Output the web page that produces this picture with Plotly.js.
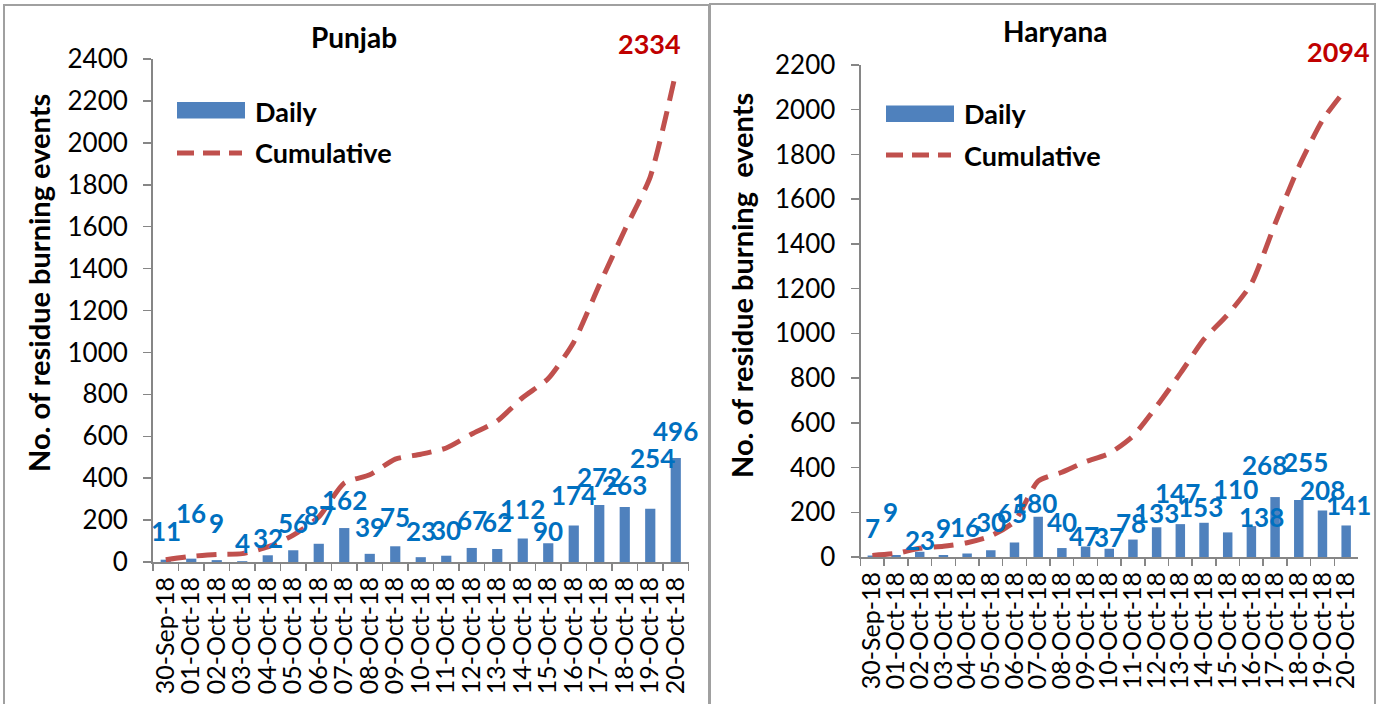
<!DOCTYPE html>
<html>
<head>
<meta charset="utf-8">
<script src="https://cdn.plot.ly/plotly-3.0.1.min.js"></script>
<style>html,body{margin:0;padding:0;background:#fff;}#chart{width:1384px;height:704px;}</style>
</head>
<body>
<div id="chart"></div>
<script>
var dates = ["30-Sep-18","01-Oct-18","02-Oct-18","03-Oct-18","04-Oct-18","05-Oct-18","06-Oct-18","07-Oct-18","08-Oct-18","09-Oct-18","10-Oct-18","11-Oct-18","12-Oct-18","13-Oct-18","14-Oct-18","15-Oct-18","16-Oct-18","17-Oct-18","18-Oct-18","19-Oct-18","20-Oct-18"];
var punjabDaily = [11,16,9,4,32,56,87,162,39,75,23,30,67,62,112,90,174,272,263,254,496];
var punjabCumulative = [11,27,36,40,72,128,215,377,416,491,514,544,611,673,785,875,1049,1321,1584,1838,2334];
var haryanaDaily = [7,9,23,9,16,30,65,180,40,47,37,78,133,147,153,110,138,268,255,208,141];
var haryanaCumulative = [7,16,39,48,64,94,159,339,379,426,463,541,674,821,974,1084,1222,1490,1745,1953,2094];
var panelTitles = ["Punjab","Haryana"];
var yTitles = ["No. of residue burning events","No. of residue burning\u00a0 events"];
var legendNames = ["Daily","Cumulative"];

// label placement (pixel nudges of the data labels, as in the reference)
var punjabLabelLift  = [29,46,37,18,17,27,29,28,27,29,26,26,28,27,30,12,31,28,22,51,27];
var punjabLabelNudge = [0,0,0,0,0,0,0,0,0,0,0,0,0,0,0,0,0,0,0,2,0];
var haryanaLabelLift  = [27,43,12,27,26,28,29,14,26,10,12,17,14,31,16,43,9,32,38,20,20];
var haryanaLabelNudge = [0,-6,0,0,-2,0,-2,-4,0,-2,0,-2,0,-3,-4,8,10,-11,7,0,2];

var W = 1384, H = 704;
function px(x){ return x / W; }
function py(y){ return 1 - y / H; }

var FONT = "Lato, 'Open Sans', sans-serif";
var BAR = "#4F81BD", LINE = "#C0504D", LABEL = "#0070C0", TOTAL = "#C00000", AX = "#868686";

function traces(daily, cum, xa, ya){
  return [
    {type:"bar", x:dates, y:daily, xaxis:xa, yaxis:ya, marker:{color:BAR}, showlegend:false, hoverinfo:"skip"},
    {type:"scatter", mode:"lines", x:dates, y:cum, xaxis:xa, yaxis:ya,
     line:{color:LINE, width:5, dash:"20px,11px", shape:"spline", smoothing:0.6}, showlegend:false, hoverinfo:"skip"}
  ];
}

var data = [].concat(
  traces(punjabDaily, punjabCumulative, "x", "y"),
  traces(haryanaDaily, haryanaCumulative, "x2", "y2")
);

function xaxis(domain, anchor){
  return {domain:domain, anchor:anchor, type:"category", range:[-0.5, dates.length-0.5],
    showline:true, linecolor:AX, linewidth:2,
    ticks:"outside", ticklen:7, tickcolor:AX, tickwidth:1.5, tickson:"boundaries",
    tickmode:"linear", dtick:1, tickangle:-90, ticklabelstandoff:3,
    tickfont:{family:FONT, size:25, color:"#000"}, showgrid:false, zeroline:false, fixedrange:true};
}
function yaxis(domain, anchor, max){
  return {domain:domain, anchor:anchor, range:[0,max], dtick:200, showline:true, linecolor:AX, linewidth:2,
    ticks:"outside", ticklen:8, tickcolor:AX, tickwidth:1.5, ticklabelstandoff:10,
    tickfont:{family:FONT, size:26, color:"#000"}, showgrid:false, zeroline:false, fixedrange:true};
}

function labelAnns(daily, lift, nudge, xr, yr){
  return daily.map(function(v, i){
    return {xref:xr, yref:yr, x:dates[i], y:v, text:String(v), showarrow:false,
      xanchor:"center", yanchor:"middle", yshift:lift[i], xshift:nudge[i],
      font:{family:FONT, size:26, color:LABEL, weight:"bold"}};
  });
}

var annotations = [
  {xref:"paper", yref:"paper", x:px(354), y:py(37), text:panelTitles[0], showarrow:false, xanchor:"center", yanchor:"middle",
   font:{family:FONT, size:28, color:"#000", weight:"bold"}},
  {xref:"paper", yref:"paper", x:px(1055), y:py(31), text:panelTitles[1], showarrow:false, xanchor:"center", yanchor:"middle",
   font:{family:FONT, size:28, color:"#000", weight:"bold"}},
  {xref:"paper", yref:"paper", x:px(38), y:py(283), text:yTitles[0], textangle:-90, showarrow:false, xanchor:"center", yanchor:"middle",
   font:{family:FONT, size:29, color:"#000", weight:"bold"}},
  {xref:"paper", yref:"paper", x:px(741), y:py(286), text:yTitles[1], textangle:-90, showarrow:false, xanchor:"center", yanchor:"middle",
   font:{family:FONT, size:29, color:"#000", weight:"bold"}},
  {xref:"x", yref:"y", x:dates[dates.length-1], y:punjabCumulative[punjabCumulative.length-1], text:String(punjabCumulative[punjabCumulative.length-1]),
   showarrow:false, xanchor:"center", yanchor:"middle", xshift:-26, yshift:29, font:{family:FONT, size:27, color:TOTAL, weight:"bold"}},
  {xref:"x2", yref:"y2", x:dates[dates.length-1], y:haryanaCumulative[haryanaCumulative.length-1], text:String(haryanaCumulative[haryanaCumulative.length-1]),
   showarrow:false, xanchor:"center", yanchor:"middle", xshift:-8, yshift:37, font:{family:FONT, size:27, color:TOTAL, weight:"bold"}},
  {xref:"paper", yref:"paper", x:px(253), y:py(111), text:legendNames[0], showarrow:false, xanchor:"left", yanchor:"middle",
   font:{family:FONT, size:27, color:"#000", weight:"bold"}},
  {xref:"paper", yref:"paper", x:px(253), y:py(153), text:legendNames[1], showarrow:false, xanchor:"left", yanchor:"middle",
   font:{family:FONT, size:27, color:"#000", weight:"bold"}},
  {xref:"paper", yref:"paper", x:px(962), y:py(114), text:legendNames[0], showarrow:false, xanchor:"left", yanchor:"middle",
   font:{family:FONT, size:27, color:"#000", weight:"bold"}},
  {xref:"paper", yref:"paper", x:px(962), y:py(155), text:legendNames[1], showarrow:false, xanchor:"left", yanchor:"middle",
   font:{family:FONT, size:27, color:"#000", weight:"bold"}}
].concat(
  labelAnns(punjabDaily, punjabLabelLift, punjabLabelNudge, "x", "y"),
  labelAnns(haryanaDaily, haryanaLabelLift, haryanaLabelNudge, "x2", "y2")
);

var layout = {
  width:W, height:H, margin:{l:0,r:0,t:0,b:0}, paper_bgcolor:"#fff", plot_bgcolor:"rgba(0,0,0,0)",
  showlegend:false, bargap:0.6,
  font:{family:FONT, color:"#000"},
  xaxis: xaxis([px(153), px(688.5)], "y"),
  yaxis: yaxis([py(562), py(59)], "x", 2400),
  xaxis2: xaxis([px(860.5), px(1358)], "y2"),
  yaxis2: yaxis([py(557), py(65)], "x2", 2200),
  shapes:[
    {type:"rect", xref:"paper", yref:"paper", x0:px(4), x1:px(709), y0:-0.02, y1:py(5), line:{color:"#A0A0A0", width:2}, layer:"below"},
    {type:"rect", xref:"paper", yref:"paper", x0:px(710), x1:px(1375), y0:-0.02, y1:py(4), line:{color:"#A0A0A0", width:2}, layer:"below"},
    {type:"rect", xref:"paper", yref:"paper", x0:px(177), x1:px(245), y0:py(118.5), y1:py(102), fillcolor:BAR, line:{width:0}},
    {type:"line", xref:"paper", yref:"paper", x0:px(177), x1:px(242), y0:py(153), y1:py(153), line:{color:LINE, width:5, dash:"17px,9px"}},
    {type:"rect", xref:"paper", yref:"paper", x0:px(886), x1:px(954), y0:py(122), y1:py(105.5), fillcolor:BAR, line:{width:0}},
    {type:"line", xref:"paper", yref:"paper", x0:px(886), x1:px(951), y0:py(155), y1:py(155), line:{color:LINE, width:5, dash:"17px,9px"}}
  ],
  annotations: annotations
};

Plotly.newPlot("chart", data, layout, {staticPlot:true, displayModeBar:false});
</script>
</body>
</html>
